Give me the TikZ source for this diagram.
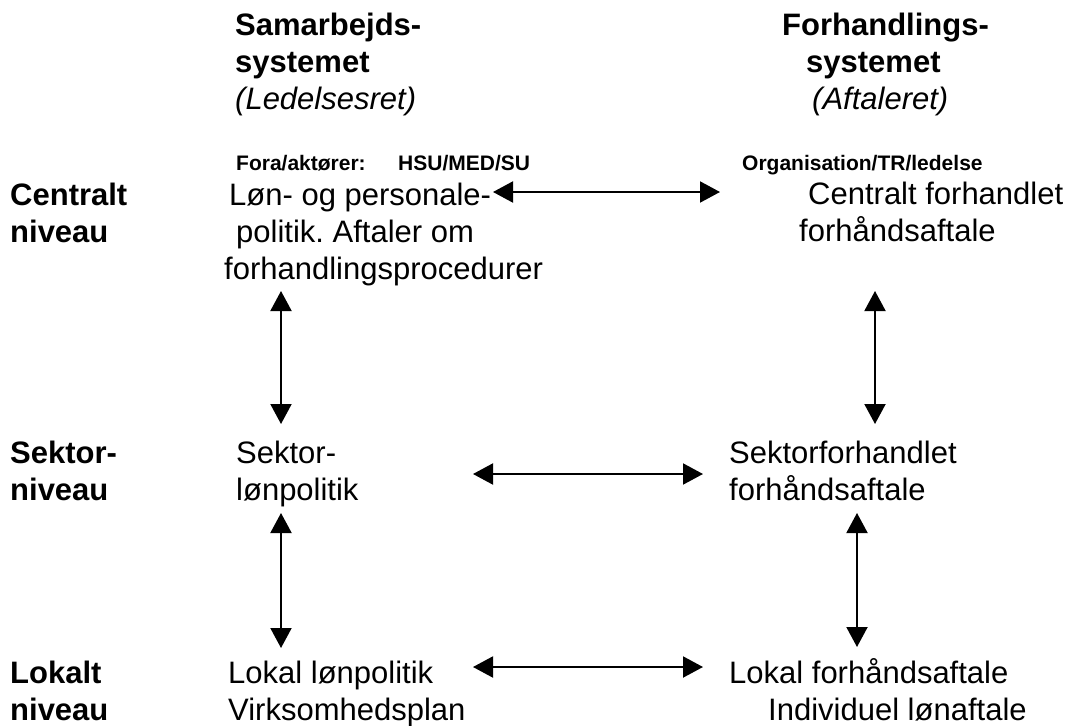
\documentclass[tikz,border=0pt]{standalone}
\usepackage{fontspec}
\setmainfont{Liberation Sans}
\usetikzlibrary{arrows.meta}
\frenchspacing
\tikzset{
  txt/.style={font=\fontsize{31pt}{37pt}\selectfont, inner sep=0pt, anchor=base west},
  txtb/.style={font=\fontsize{31pt}{37pt}\selectfont\bfseries, inner sep=0pt, anchor=base west},
  small/.style={font=\fontsize{21pt}{25pt}\selectfont\bfseries, inner sep=0pt, anchor=base west},
  biarrow/.style={line width=2pt, {Triangle[length=20pt,width=21pt]}-{Triangle[length=20pt,width=21pt]}}
}
\newcommand{\blocklines}[1]{\begin{tabular}[t]{@{}l@{}}#1\end{tabular}}
\begin{document}
\begin{tikzpicture}[x=1pt,y=-1pt]
\useasboundingbox (0,0) rectangle (1077,726);
% column titles
\node[txtb] (titleL) at (235,35) {\blocklines{Samarbejds-\\systemet\\\mdseries\itshape (Ledelsesret)}};
\node[txtb] (titleR) at (782,35) {\blocklines{Forhandlings-\\\hspace*{24pt}systemet\\\hspace*{30pt}\mdseries\itshape (Aftaleret)}};
% actors
\node[small] (fora) at (236,170) {Fora/aktører:};
\node[small] (hsu) at (398,170) {HSU/MED/SU};
\node[small] (org) at (742,170) {Organisation/TR/ledelse};
% level labels
\node[txtb] (lvlC) at (10,205) {\blocklines{Centralt\\niveau}};
\node[txtb] (lvlS) at (10,463) {\blocklines{Sektor-\\niveau}};
\node[txtb] (lvlL) at (10,683) {\blocklines{Lokalt\\niveau}};
% left column
\node[txt] (cL) at (224,205) {\blocklines{\hspace*{5pt}Løn- og personale-\\\hspace*{12pt}politik. Aftaler om\\forhandlingsprocedurer}};
\node[txt] (sL) at (236,463) {\blocklines{Sektor-\\lønpolitik}};
\node[txt] (lL) at (228,683) {\blocklines{Lokal lønpolitik\\Virksomhedsplan}};
% right column
\node[txt] (cR) at (799,204) {\blocklines{\hspace*{9pt}Centralt forhandlet\\forhåndsaftale}};
\node[txt] (sR) at (729,463) {\blocklines{Sektorforhandlet\\forhåndsaftale}};
\node[txt] (lR) at (729,683) {\blocklines{Lokal forhåndsaftale\\\hspace*{39pt}Individuel lønaftale}};
% arrow end points
\coordinate (hC1) at (493,192); \coordinate (hC2) at (720,192);
\coordinate (hS1) at (473,474); \coordinate (hS2) at (703,474);
\coordinate (hL1) at (473,667); \coordinate (hL2) at (703,667);
\coordinate (vL1) at (281,291); \coordinate (vL2) at (281,424);
\coordinate (vL3) at (281,513); \coordinate (vL4) at (281,648);
\coordinate (vR1) at (875,291); \coordinate (vR2) at (875,424);
\coordinate (vR3) at (857,513); \coordinate (vR4) at (857,647);
\draw[biarrow] (hC1) -- (hC2);
\draw[biarrow] (hS1) -- (hS2);
\draw[biarrow] (hL1) -- (hL2);
\draw[biarrow] (vL1) -- (vL2);
\draw[biarrow] (vL3) -- (vL4);
\draw[biarrow] (vR1) -- (vR2);
\draw[biarrow] (vR3) -- (vR4);
\end{tikzpicture}
\end{document}
